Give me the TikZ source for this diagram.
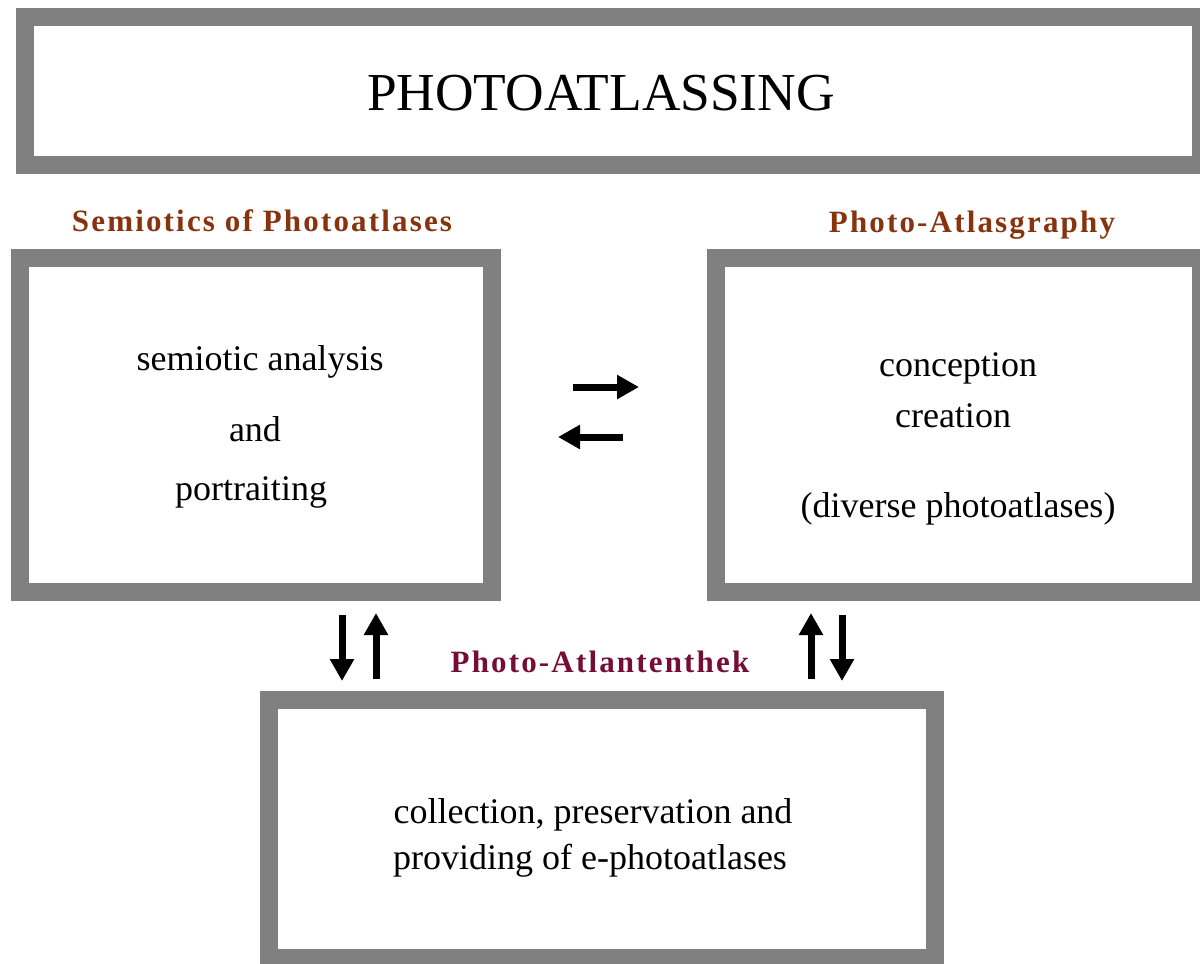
\documentclass[tikz,border=0pt]{standalone}
\usepackage{fontspec}
\setmainfont{Liberation Serif}
\usetikzlibrary{arrows.meta}
\definecolor{boxgray}{RGB}{128,128,128}
\definecolor{headbrown}{RGB}{135,52,14}
\definecolor{headwine}{RGB}{118,14,52}
\tikzset{
  frame/.style={draw=boxgray, line width=9pt, fill=white, inner sep=0pt},
  headtxt/.style={anchor=base, font=\fontsize{15.5pt}{18pt}\selectfont\bfseries\addfontfeature{LetterSpace=7}},
  bodytxt/.style={anchor=base, font=\fontsize{18pt}{21pt}\selectfont},
  flow/.style={line width=3.5pt, -{Triangle[length=11pt,width=11.5pt]}}
}
\begin{document}
\begin{tikzpicture}[x=0.5pt,y=-0.5pt]
\useasboundingbox[fill=white] (0,0) rectangle (1200,964);
% boxes
\node[frame, minimum width=588pt, minimum height=74pt] (top) at (613,91) {};
\node[frame, minimum width=236pt, minimum height=167pt] (left) at (256,425) {};
\node[frame, minimum width=242.5pt, minimum height=167pt] (right) at (958,425) {};
\node[frame, minimum width=333pt, minimum height=129pt] (bottom) at (602,829) {};
% title
\node[anchor=base, font=\fontsize{26.7pt}{30pt}\selectfont] (title) at (601,110) {PHOTOATLASSING};
% headings
\node[headtxt, text=headbrown] (h1) at (262,231) {Semiotics of Photoatlases};
\node[headtxt, text=headbrown] (h2) at (972,232) {Photo-Atlasgraphy};
\node[headtxt, text=headwine] (h3) at (600,672) {Photo-Atlantenthek};
% left box text
\node[bodytxt] (l1) at (260,370) {semiotic analysis};
\node[bodytxt] (l2) at (255,441) {and};
\node[bodytxt] (l3) at (251,500) {portraiting};
% right box text
\node[bodytxt] (r1) at (958,376) {conception};
\node[bodytxt] (r2) at (953,427) {creation};
\node[bodytxt] (r3) at (958,517) {(diverse photoatlases)};
% bottom box text
\node[bodytxt] (b1) at (593,823) {collection, preservation and};
\node[bodytxt] (b2) at (590,869) {providing of e-photoatlases};
% arrows
\coordinate (ha1) at (573,387); \coordinate (ha2) at (639,387);
\coordinate (hb1) at (623,437); \coordinate (hb2) at (558,437);
\draw[flow] (ha1) -- (ha2);
\draw[flow] (hb1) -- (hb2);
\coordinate (v1a) at (342,615); \coordinate (v1b) at (342,681);
\coordinate (v2a) at (376,679); \coordinate (v2b) at (376,613);
\coordinate (v3a) at (811,679); \coordinate (v3b) at (811,613);
\coordinate (v4a) at (842,615); \coordinate (v4b) at (842,681);
\draw[flow] (v1a) -- (v1b);
\draw[flow] (v2a) -- (v2b);
\draw[flow] (v3a) -- (v3b);
\draw[flow] (v4a) -- (v4b);
\end{tikzpicture}
\end{document}
